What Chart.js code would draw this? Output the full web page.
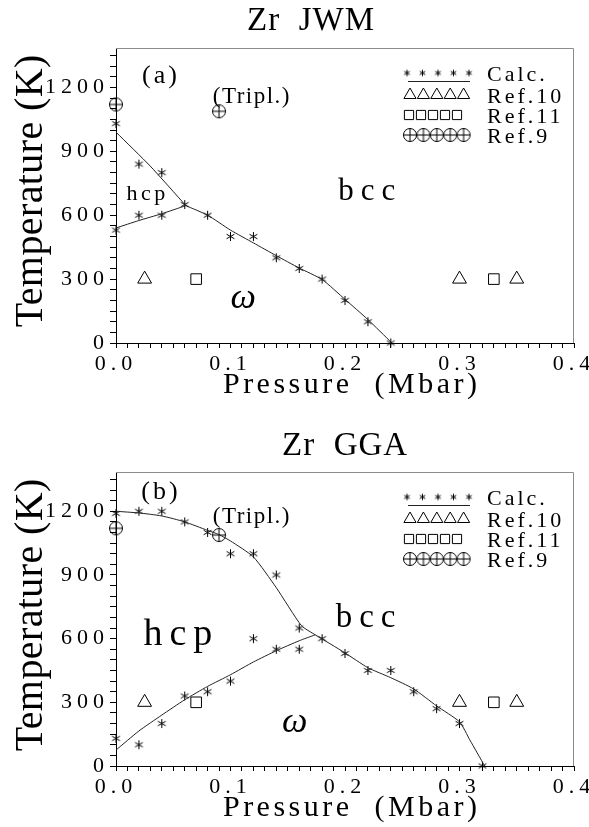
<!DOCTYPE html>
<html>
<head>
<meta charset="utf-8">
<script src="https://cdn.jsdelivr.net/npm/chart.js"></script>
<style>
  html, body { margin: 0; padding: 0; background: #fff; }
  .panel { position: relative; width: 589px; }
  #panelJwm { height: 424px; }
  #panelGga { height: 403px; }
</style>
</head>
<body>
<div class="panel" id="panelJwm"><canvas id="chartJwm"></canvas></div>
<div class="panel" id="panelGga"><canvas id="chartGga"></canvas></div>
<script>
// ---- tick labels ----
const xTickLabels = [0, 0.1, 0.2, 0.3, 0.4];
const yTickLabels = [0, 300, 600, 900, 1200];

// ---- Zr JWM (a) ----
const jwmCalcP = [0, 0.02, 0.04, 0, 0.02, 0.04, 0.06, 0.08, 0.10, 0.12, 0.14, 0.16, 0.18, 0.20, 0.22, 0.24];
const jwmCalcT = [1030, 840, 800, 530, 600, 600, 650, 600, 500, 500, 400, 350, 300, 200, 100, 0];
const jwmHcpBccP = [0, 0.03, 0.061];
const jwmHcpBccT = [990, 830, 645];
const jwmHcpOmegaP = [0, 0.02, 0.04, 0.061];
const jwmHcpOmegaT = [540, 575, 607, 645];
const jwmOmegaBccP = [0.061, 0.08, 0.10, 0.12, 0.14, 0.16, 0.18, 0.20, 0.22, 0.241];
const jwmOmegaBccT = [645, 600, 530, 470, 410, 352, 298, 205, 110, 0];

// ---- Zr GGA (b) ----
const ggaCalcP = [0, 0.02, 0.04, 0.06, 0.08, 0.10, 0.12, 0.14,
                  0, 0.02, 0.04, 0.06, 0.08, 0.10, 0.12, 0.14, 0.16, 0.16,
                  0.18, 0.20, 0.22, 0.24, 0.26, 0.28, 0.30, 0.32];
const ggaCalcT = [1190, 1200, 1200, 1150, 1100, 1000, 1000, 900,
                  130, 100, 200, 330, 350, 400, 600, 550, 550, 650,
                  600, 530, 450, 450, 350, 270, 200, 0];
const ggaHcpBccP = [0, 0.02, 0.04, 0.06, 0.08, 0.09, 0.10, 0.12, 0.14, 0.162, 0.174];
const ggaHcpBccT = [1200, 1192, 1178, 1150, 1110, 1090, 1060, 985, 840, 661, 618];
const ggaHcpOmegaP = [0, 0.02, 0.04, 0.06, 0.08, 0.10, 0.12, 0.14, 0.16, 0.174];
const ggaHcpOmegaT = [75, 165, 240, 312, 375, 430, 490, 543, 590, 618];
const ggaOmegaBccP = [0.174, 0.20, 0.22, 0.24, 0.26, 0.28, 0.30, 0.309, 0.322];
const ggaOmegaBccT = [618, 533, 463, 416, 363, 283, 208, 123, 0];

// ---- experimental references (same in both panels) ----
const ref10P = [0.025, 0.30, 0.35];
const ref10T = [300, 300, 300];
const ref11P = [0.07, 0.33];
const ref11T = [300, 300];
const ref9P = [0, 0.09];
const ref9T = [1120, 1088];

const serif = "'Liberation Serif', 'Times New Roman', serif";
const tickSpacing = 5;

function zip(xs, ys) {
  return xs.map((x, i) => ({ x: x, y: ys[i] }));
}

// small canvases used as point styles
function makeAsterisk(r) {
  const c = document.createElement('canvas');
  c.width = c.height = Math.ceil(r * 2 + 2);
  const g = c.getContext('2d');
  const m = c.width / 2;
  g.strokeStyle = '#000';
  g.lineWidth = 1;
  [90, 30, 150].forEach(a => {
    const rad = a * Math.PI / 180;
    g.beginPath();
    g.moveTo(m - Math.cos(rad) * r, m - Math.sin(rad) * r);
    g.lineTo(m + Math.cos(rad) * r, m + Math.sin(rad) * r);
    g.stroke();
  });
  return c;
}
function makeCirclePlus(r) {
  const c = document.createElement('canvas');
  c.width = c.height = Math.ceil(r * 2 + 3);
  const g = c.getContext('2d');
  const m = c.width / 2;
  g.strokeStyle = '#000';
  g.lineWidth = 1;
  g.beginPath();
  g.arc(m, m, r, 0, Math.PI * 2);
  g.moveTo(m - r, m); g.lineTo(m + r, m);
  g.moveTo(m, m - r); g.lineTo(m, m + r);
  g.stroke();
  return c;
}
const starImg = makeAsterisk(4.5);
const starLegendImg = makeAsterisk(3.2);
const circlePlusImg = makeCirclePlus(6.5);

function drawText(ctx, text, x, y, size, spacing, align, style) {
  ctx.save();
  ctx.font = (style ? style + ' ' : '') + size + 'px ' + serif;
  ctx.letterSpacing = spacing + 'px';
  ctx.textAlign = align || 'left';
  ctx.textBaseline = 'alphabetic';
  ctx.fillStyle = '#000';
  const dx = align === 'center' ? spacing / 2 : (align === 'right' ? spacing : 0);
  ctx.fillText(text, x + dx, y);
  ctx.restore();
}

// legend rows: dataset label, start offset, step, row offset, symbol size
const legendRows = [
  { label: 'Calc.', x0: 291, step: 15.5, dy: 25, img: starLegendImg, line: true },
  { label: 'Ref.10', x0: 294, step: 13.4, dy: 47, style: 'triangle', radius: 7 },
  { label: 'Ref.11', x0: 293, step: 12, dy: 67, style: 'rect', radius: 6.5 },
  { label: 'Ref.9', x0: 294, step: 13.4, dy: 87, img: circlePlusImg }
];

function drawSymbol(ctx, row, x, y) {
  if (row.img) {
    ctx.drawImage(row.img, x - row.img.width / 2, y - row.img.height / 2);
    return;
  }
  if (Chart.helpers && Chart.helpers.drawPoint) {
    Chart.helpers.drawPoint(ctx, { pointStyle: row.style, radius: row.radius, borderWidth: 1, rotation: 0 }, x, y);
  }
}

const decorPlugin = {
  id: 'decor',
  beforeLayout(chart) { chart.ctx.letterSpacing = tickSpacing + 'px'; },
  beforeDraw(chart) { chart.ctx.letterSpacing = tickSpacing + 'px'; },
  afterDraw(chart, args, opts) {
    const ctx = chart.ctx;
    const a = chart.chartArea;
    const xs = chart.scales.x, ys = chart.scales.y;

    // grey frame on top and right
    ctx.save();
    ctx.letterSpacing = '0px';
    ctx.strokeStyle = '#8c8c8c';
    ctx.lineWidth = 1;
    ctx.beginPath();
    ctx.moveTo(a.left, a.top + 0.5);
    ctx.lineTo(a.right - 0.5, a.top + 0.5);
    ctx.lineTo(a.right - 0.5, a.bottom);
    ctx.stroke();
    ctx.restore();

    drawText(ctx, opts.title, a.left + opts.titleX, a.top + opts.titleY, 33, 1, 'left');
    drawText(ctx, 'Pressure  (Mbar)', a.left + 234, a.bottom + 50, 30, 3.5, 'center');
    ctx.save();
    ctx.translate(42, a.top + 143);
    ctx.rotate(-Math.PI / 2);
    drawText(ctx, 'Temperature (K)', 0, 0, 40, 0.4, 'center');
    ctx.restore();

    opts.labels.forEach(l => {
      drawText(ctx, l.text, xs.getPixelForValue(l.p), ys.getPixelForValue(l.t), l.size, l.spacing, 'center', l.style);
    });

    // legend
    ctx.save();
    ctx.strokeStyle = '#000';
    ctx.fillStyle = 'rgba(0,0,0,0)';
    ctx.lineWidth = 1;
    legendRows.forEach(row => {
      const y = a.top + row.dy;
      for (let i = 0; i < 5; i++) {
        drawSymbol(ctx, row, a.left + row.x0 + i * row.step, y);
      }
      if (row.line) {
        ctx.strokeStyle = '#222';
        ctx.beginPath();
        ctx.moveTo(a.left + 292, y + 8.5);
        ctx.lineTo(a.left + 354, y + 8.5);
        ctx.stroke();
        ctx.strokeStyle = '#000';
      }
      drawText(ctx, row.label, a.left + 371, y + 8, 22, 3, 'left');
    });
    ctx.restore();
  }
};

function lineSet(label, xs, ys, tension) {
  return {
    label: label,
    data: zip(xs, ys),
    showLine: true,
    borderColor: '#222',
    borderWidth: 1,
    pointRadius: 0,
    tension: tension,
    fill: false,
    clip: false
  };
}
function markerSet(label, xs, ys, style, radius) {
  return {
    label: label,
    data: zip(xs, ys),
    showLine: false,
    pointStyle: style,
    pointRadius: radius,
    borderColor: '#000',
    backgroundColor: 'rgba(0,0,0,0)',
    borderWidth: 1,
    clip: false
  };
}

function makeChart(canvasId, cfg) {
  const ctx = document.getElementById(canvasId).getContext('2d');
  return new Chart(ctx, {
    type: 'scatter',
    data: {
      datasets: [
        lineSet('hcp-bcc', cfg.hcpBcc[0], cfg.hcpBcc[1], cfg.tension),
        lineSet('hcp-omega', cfg.hcpOmega[0], cfg.hcpOmega[1], cfg.tension),
        lineSet('omega-bcc', cfg.omegaBcc[0], cfg.omegaBcc[1], cfg.tension),
        markerSet('Calc.', cfg.calc[0], cfg.calc[1], starImg, 5),
        markerSet('Ref.10', ref10P, ref10T, 'triangle', 8),
        markerSet('Ref.11', ref11P, ref11T, 'rect', 7.5),
        markerSet('Ref.9', ref9P, ref9T, circlePlusImg, 7)
      ]
    },
    options: {
      responsive: true,
      maintainAspectRatio: false,
      animation: false,
      events: [],
      layout: { padding: { top: 48, right: 15, bottom: 0, left: 0 } },
      plugins: {
        legend: { display: false },
        tooltip: { enabled: false },
        decor: cfg.decor
      },
      scales: {
        x: {
          type: 'linear',
          min: 0,
          max: 0.4,
          border: { color: '#000', width: 1 },
          grid: { drawOnChartArea: false, color: '#000', tickLength: 5 },
          ticks: {
            stepSize: 0.01,
            autoSkip: false,
            maxRotation: 0,
            includeBounds: false,
            padding: 3,
            color: '#000',
            font: { family: serif, size: 22 },
            callback: v => xTickLabels.some(t => Math.abs(t - v) < 1e-9) ? v.toFixed(1) : ''
          },
          afterFit: s => { s.height = cfg.xHeight; s.paddingLeft = 0; s.paddingRight = 0; }
        },
        y: {
          type: 'linear',
          min: 0,
          max: 1385,
          border: { color: '#000', width: 1 },
          grid: { drawOnChartArea: false, color: '#000', tickLength: 6 },
          ticks: {
            stepSize: 50,
            autoSkip: false,
            includeBounds: false,
            padding: 1,
            color: '#000',
            font: { family: serif, size: 22 },
            callback: v => yTickLabels.includes(v) ? String(v) : ''
          },
          afterFit: s => { s.width = 116; s.paddingTop = 0; s.paddingBottom = 0; }
        }
      }
    },
    plugins: [decorPlugin]
  });
}

makeChart('chartJwm', {
  calc: [jwmCalcP, jwmCalcT],
  hcpBcc: [jwmHcpBccP, jwmHcpBccT],
  hcpOmega: [jwmHcpOmegaP, jwmHcpOmegaT],
  omegaBcc: [jwmOmegaBccP, jwmOmegaBccT],
  tension: 0.2,
  xHeight: 81,
  decor: {
    title: 'Zr  JWM', titleX: 131, titleY: -18,
    labels: [
      { text: '(a)', p: 0.038, t: 1220, size: 26, spacing: 3 },
      { text: '(Tripl.)', p: 0.118, t: 1125, size: 23, spacing: 1.5 },
      { text: 'hcp', p: 0.026, t: 670, size: 22, spacing: 3.5 },
      { text: 'bcc', p: 0.219, t: 670, size: 31, spacing: 7 },
      { text: 'ω', p: 0.111, t: 164, size: 36, spacing: 0, style: 'italic' }
    ]
  }
});

makeChart('chartGga', {
  calc: [ggaCalcP, ggaCalcT],
  hcpBcc: [ggaHcpBccP, ggaHcpBccT],
  hcpOmega: [ggaHcpOmegaP, ggaHcpOmegaT],
  omegaBcc: [ggaOmegaBccP, ggaOmegaBccT],
  tension: 0.2,
  xHeight: 61,
  decor: {
    title: 'Zr  GGA', titleX: 166, titleY: -17,
    labels: [
      { text: '(b)', p: 0.038, t: 1256, size: 26, spacing: 3 },
      { text: '(Tripl.)', p: 0.118, t: 1143, size: 23, spacing: 1.5 },
      { text: 'hcp', p: 0.054, t: 572, size: 38, spacing: 7 },
      { text: 'bcc', p: 0.218, t: 657, size: 33, spacing: 7 },
      { text: 'ω', p: 0.156, t: 160, size: 36, spacing: 0, style: 'italic' }
    ]
  }
});
</script>
</body>
</html>
